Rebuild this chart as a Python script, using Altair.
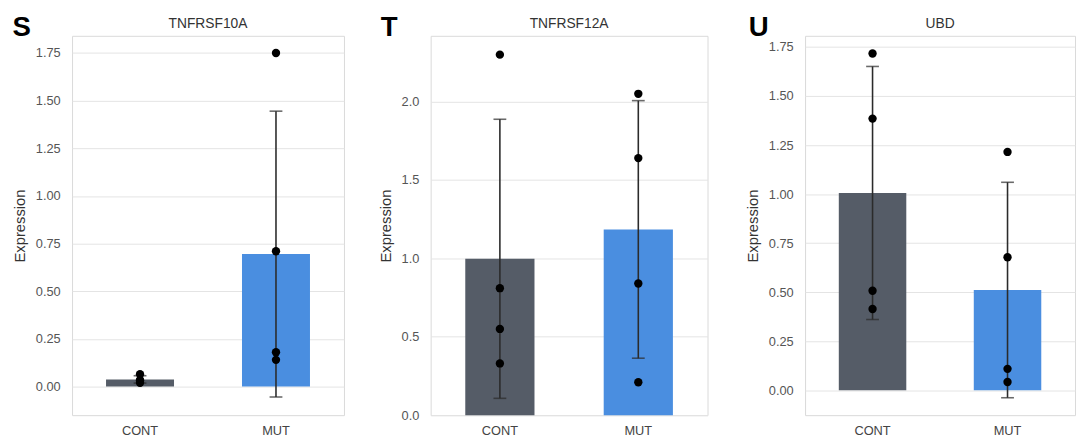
import altair as alt
import pandas as pd

genes = ["TNFRSF10A", "TNFRSF12A", "UBD"]
letters = ["S", "T", "U"]
groups = ["CONT", "MUT"]

cont_tnfrsf10a = [0.065, 0.035, 0.03, 0.02]
mut_tnfrsf10a = [1.75, 0.71, 0.18, 0.14]
cont_tnfrsf12a = [2.30, 0.81, 0.55, 0.33]
mut_tnfrsf12a = [2.05, 1.64, 0.84, 0.21]
cont_ubd = [1.717, 1.385, 0.507, 0.414]
mut_ubd = [1.215, 0.678, 0.109, 0.042]

y_domains = [[-0.15, 1.84], [0.0, 2.42], [-0.127, 1.807]]
y_ticks = [[0, 0.25, 0.5, 0.75, 1.0, 1.25, 1.5, 1.75],
           [0, 0.5, 1.0, 1.5, 2.0],
           [0, 0.25, 0.5, 0.75, 1.0, 1.25, 1.5, 1.75]]
y_formats = [".2f", ".1f", ".2f"]
widths = [276, 281, 274]
letter_dx = [-51, -42, -47]

values = {
    "TNFRSF10A": (cont_tnfrsf10a, mut_tnfrsf10a),
    "TNFRSF12A": (cont_tnfrsf12a, mut_tnfrsf12a),
    "UBD": (cont_ubd, mut_ubd),
}

colors = ["#555c67", "#4a8ee0"]
FONT = "Liberation Sans"


def panel(i):
    gene = genes[i]
    c, m = values[gene]
    df = pd.DataFrame({
        "group": ["CONT"] * len(c) + ["MUT"] * len(m),
        "value": c + m,
    })
    x = alt.X("group:N", sort=groups, title=None,
              scale=alt.Scale(paddingInner=0, paddingOuter=0),
              axis=alt.Axis(labelAngle=0, labelFontSize=13, labelColor="#444",
                            labelFont=FONT, ticks=False, domain=False,
                            labelPadding=10, grid=False))
    ycommon = dict(
        title="Expression",
        scale=alt.Scale(domain=y_domains[i], nice=False, zero=False),
        axis=alt.Axis(values=y_ticks[i], format=y_formats[i],
                      labelFontSize=13, labelColor="#555", labelFont=FONT,
                      ticks=False, domain=False, labelPadding=12,
                      titleFontSize=15, titleFont=FONT, titleColor="#333",
                      titleFontWeight="normal", titlePadding=8,
                      gridColor="#e4e4e4", gridWidth=1),
    )
    base = alt.Chart(df)
    bars = base.mark_bar(width={"band": 0.5}).encode(
        x=x,
        y=alt.Y("value:Q", aggregate="mean", **ycommon),
        color=alt.Color("group:N", scale=alt.Scale(domain=groups, range=colors),
                        legend=None),
    )
    err = base.mark_errorbar(extent="stdev", ticks={"size": 13},
                             color="#2b2b2b", thickness=1.6).encode(
        x=x,
        y=alt.Y("value:Q", **ycommon),
    )
    pts = base.mark_circle(size=72, color="#000000", opacity=1).encode(
        x=x,
        y=alt.Y("value:Q", **ycommon),
    )
    lab = alt.Chart(pd.DataFrame({"letter": [letters[i]]})).mark_text(
        fontSize=28, fontWeight="bold", font=FONT, color="#000",
        baseline="alphabetic", align="center"
    ).encode(x=alt.value(letter_dx[i]), y=alt.value(0), text="letter:N")
    ttl = alt.Chart(pd.DataFrame({"gene": [gene]})).mark_text(
        fontSize=14, font=FONT, color="#333", baseline="middle", align="center"
    ).encode(x=alt.value(widths[i] / 2), y=alt.value(-12), text="gene:N")
    return alt.layer(bars, err, pts, lab, ttl).properties(
        width=widths[i], height=385,
    )


chart = alt.hconcat(
    alt.hconcat(panel(0), panel(1), spacing=33),
    panel(2),
    spacing=37,
).configure_view(
    stroke="#d9d9d9", strokeWidth=1
).properties(padding={"left": 4, "top": 2, "right": 0, "bottom": 0})

chart.save("out.html", embed_options={"renderer": "svg", "actions": False})
